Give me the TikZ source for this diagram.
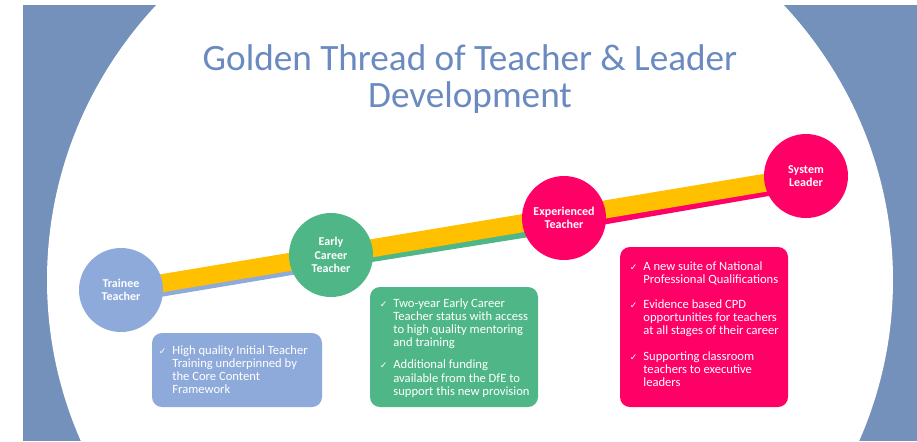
\documentclass[tikz,border=0pt]{standalone}
\usepackage{fontspec}
\setmainfont{Carlito}
\newfontfamily\symfont{DejaVu Sans}
\usetikzlibrary{positioning}

\definecolor{bgblue}{HTML}{7391BB}
\definecolor{titleblue}{HTML}{6A8AC0}
\definecolor{traineeblue}{HTML}{8EAADB}
\definecolor{ectgreen}{HTML}{4FB787}
\definecolor{exppink}{HTML}{FF0066}
\definecolor{threadgold}{HTML}{FFC000}

\newcommand{\tick}{\llap{{\symfont\fontsize{4.5}{5}\selectfont ✓}\hspace{3pt}}}

\pgfdeclarelayer{canvas}
\pgfdeclarelayer{thread}
\pgfsetlayers{canvas,thread,main}

\tikzset{
  stage/.style={circle, minimum size=42pt, inner sep=0pt, text=white, align=center,
    font=\bfseries\fontsize{6}{6.6}\selectfont},
  infobox/.style={rounded corners=5pt, inner sep=0pt},
  boxtext/.style={text=white, align=left, inner sep=0pt, anchor=north west,
    font=\fontsize{6.3}{6.6}\selectfont},
  goldline/.style={line width=9pt, threadgold},
  shadowline/.style={line width=9pt, transform canvas={yshift=-2.2pt}}
}

\begin{document}
\begin{tikzpicture}[x=0.5pt, y=-0.5pt]
      \useasboundingbox (0, 0) rectangle (917, 441);

      % backdrop
      \begin{pgfonlayer}{canvas}
        \fill[white] (0, 0) rectangle (917, 441);
        \begin{scope}
          \clip (23, 5) rectangle (917, 441);
          \fill[bgblue] (23, 5) rectangle (917, 441);
          \fill[white] (470, 280) ellipse [x radius=423, y radius=410];
        \end{scope}
      \end{pgfonlayer}

      % title
      \node[text=titleblue, align=center, font=\fontsize{18.6}{18.8}\selectfont] (title) at (470, 79)
        {Golden Thread of Teacher \& Leader\\Development};

      % stages
      \node[stage, fill=traineeblue] (trainee) at (121, 290) {Trainee\\Teacher};
      \node[stage, fill=ectgreen] (ect) at (331, 255) {Early\\Career\\Teacher};
      \node[stage, fill=exppink] (experienced) at (564, 218) {Experienced\\Teacher};
      \node[stage, fill=exppink] (leader) at (806, 176) {System\\Leader};

      % golden thread
      \begin{pgfonlayer}{thread}
        \draw[shadowline, traineeblue] (trainee.center) -- (ect.center);
        \draw[shadowline, ectgreen] (ect.center) -- (experienced.center);
        \draw[shadowline, exppink] (experienced.center) -- (leader.center);
        \draw[goldline] (trainee.center) -- (leader.center);
      \end{pgfonlayer}

      % Trainee box
      \path[infobox, fill=traineeblue] (152, 333) rectangle (322, 407);
      \node[boxtext] (trainee text) at (172, 345)
        {\tick High quality Initial Teacher\\Training underpinned by\\the Core Content\\Framework};

      % ECT box
      \path[infobox, fill=ectgreen] (370, 287) rectangle (538, 407);
      \node[boxtext] (ect text) at (393, 298)
        {\tick Two-year Early Career\\Teacher status with access\\to high quality mentoring\\and training\\[4.5pt]
         \tick Additional funding\\available from the DfE to\\support this new provision};

      % Leader box
      \path[infobox, fill=exppink] (620, 247) rectangle (788, 407);
      \node[boxtext] (leader text) at (643, 261)
        {\tick A new suite of National\\Professional Qualifications\\[6pt]
         \tick Evidence based CPD\\opportunities for teachers\\at all stages of their career\\[6pt]
         \tick Supporting classroom\\teachers to executive\\leaders};
    \end{tikzpicture}
\end{document}
